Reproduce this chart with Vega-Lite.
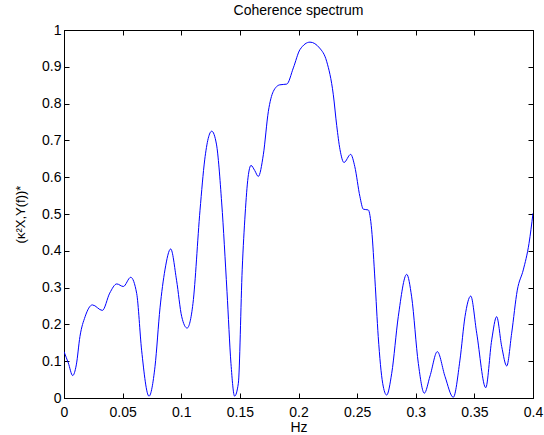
{
  "$schema": "https://vega.github.io/schema/vega-lite/v6.json",
  "width": 469,
  "height": 368,
  "autosize": {"type": "none"},
  "padding": {"left": 64, "top": 30, "right": 11, "bottom": 37},
  "background": "white",
  "title": {"text": "Coherence spectrum", "font": "Liberation Sans", "fontSize": 14, "fontWeight": "normal", "color": "black", "offset": 5},
  "config": {"view": {"stroke": "black", "strokeWidth": 1}},
  "data": {"values": [
    {"f": 0, "v": 0.126}, {"f": 0.0037, "v": 0.095}, {"f": 0.0074, "v": 0.061}, {"f": 0.0105, "v": 0.09},
    {"f": 0.0136, "v": 0.167}, {"f": 0.018, "v": 0.221}, {"f": 0.0242, "v": 0.253}, {"f": 0.0327, "v": 0.238},
    {"f": 0.039, "v": 0.285}, {"f": 0.045, "v": 0.31}, {"f": 0.0506, "v": 0.303}, {"f": 0.0569, "v": 0.328},
    {"f": 0.062, "v": 0.284}, {"f": 0.0662, "v": 0.13}, {"f": 0.0725, "v": 0.005}, {"f": 0.0776, "v": 0.085},
    {"f": 0.0819, "v": 0.245}, {"f": 0.0861, "v": 0.348}, {"f": 0.091, "v": 0.405}, {"f": 0.096, "v": 0.32},
    {"f": 0.1004, "v": 0.221}, {"f": 0.105, "v": 0.19}, {"f": 0.11, "v": 0.257}, {"f": 0.116, "v": 0.51},
    {"f": 0.12, "v": 0.647}, {"f": 0.126, "v": 0.725}, {"f": 0.13, "v": 0.69}, {"f": 0.1345, "v": 0.53},
    {"f": 0.139, "v": 0.29}, {"f": 0.1424, "v": 0.094}, {"f": 0.1455, "v": 0.005}, {"f": 0.1487, "v": 0.04},
    {"f": 0.152, "v": 0.35}, {"f": 0.1545, "v": 0.5}, {"f": 0.157, "v": 0.6}, {"f": 0.1595, "v": 0.632},
    {"f": 0.1627, "v": 0.618}, {"f": 0.1657, "v": 0.602}, {"f": 0.17, "v": 0.661}, {"f": 0.1743, "v": 0.779},
    {"f": 0.1785, "v": 0.833}, {"f": 0.184, "v": 0.851}, {"f": 0.19, "v": 0.853}, {"f": 0.1956, "v": 0.897},
    {"f": 0.2013, "v": 0.947}, {"f": 0.2098, "v": 0.967}, {"f": 0.218, "v": 0.951}, {"f": 0.224, "v": 0.915},
    {"f": 0.2297, "v": 0.824}, {"f": 0.2326, "v": 0.74}, {"f": 0.2354, "v": 0.675}, {"f": 0.2388, "v": 0.64},
    {"f": 0.2445, "v": 0.662}, {"f": 0.248, "v": 0.629}, {"f": 0.2524, "v": 0.547}, {"f": 0.2553, "v": 0.513},
    {"f": 0.2595, "v": 0.511}, {"f": 0.2624, "v": 0.457}, {"f": 0.2652, "v": 0.321}, {"f": 0.268, "v": 0.167},
    {"f": 0.2718, "v": 0.04}, {"f": 0.2752, "v": 0.008}, {"f": 0.2795, "v": 0.067}, {"f": 0.2851, "v": 0.221},
    {"f": 0.2923, "v": 0.336}, {"f": 0.2965, "v": 0.275}, {"f": 0.3022, "v": 0.094}, {"f": 0.3073, "v": 0.013},
    {"f": 0.3122, "v": 0.06}, {"f": 0.3184, "v": 0.126}, {"f": 0.325, "v": 0.058}, {"f": 0.332, "v": 0.002},
    {"f": 0.3377, "v": 0.103}, {"f": 0.342, "v": 0.221}, {"f": 0.3469, "v": 0.277}, {"f": 0.352, "v": 0.176},
    {"f": 0.3597, "v": 0.028}, {"f": 0.3648, "v": 0.158}, {"f": 0.369, "v": 0.221}, {"f": 0.3733, "v": 0.14},
    {"f": 0.3776, "v": 0.087}, {"f": 0.3818, "v": 0.176}, {"f": 0.3866, "v": 0.293}, {"f": 0.3917, "v": 0.348},
    {"f": 0.3966, "v": 0.42}, {"f": 0.4, "v": 0.502}
  ]},
  "layer": [
    {
      "mark": {"type": "line", "color": "#0000ff", "strokeWidth": 1, "interpolate": "monotone", "clip": true},
      "encoding": {
        "x": {"field": "f", "type": "quantitative", "scale": {"domain": [0, 0.4], "nice": false, "zero": false},
          "axis": {"orient": "bottom", "title": "Hz", "values": [0, 0.05, 0.1, 0.15, 0.2, 0.25, 0.3, 0.35, 0.4], "format": "~g",
            "grid": false, "domainColor": "black", "tickColor": "black", "tickSize": -5, "labelPadding": 12,
            "labelFont": "Liberation Sans", "labelFontSize": 14, "labelColor": "black", "labelFlush": false,
            "titleFont": "Liberation Sans", "titleFontSize": 14, "titleFontWeight": "normal", "titleColor": "black", "titlePadding": 1}},
        "y": {"field": "v", "type": "quantitative", "scale": {"domain": [0, 1], "nice": false},
          "axis": {"orient": "left", "title": "(κ²X,Y(f))*", "values": [0, 0.1, 0.2, 0.3, 0.4, 0.5, 0.6, 0.7, 0.8, 0.9, 1], "format": "~g",
            "grid": false, "domainColor": "black", "tickColor": "black", "tickSize": -5, "labelPadding": 8,
            "labelFont": "Liberation Sans", "labelFontSize": 14, "labelColor": "black", "labelFlush": false,
            "titleFont": "Liberation Sans", "titleFontSize": 13, "titleFontWeight": "normal", "titleColor": "black", "titlePadding": 14}}
      }
    },
    {
      "mark": {"type": "line", "opacity": 0},
      "encoding": {
        "x": {"field": "f", "type": "quantitative",
          "axis": {"orient": "top", "title": null, "labels": false, "values": [0, 0.05, 0.1, 0.15, 0.2, 0.25, 0.3, 0.35, 0.4],
            "grid": false, "domainColor": "black", "tickColor": "black", "tickSize": -5}},
        "y": {"field": "v", "type": "quantitative",
          "axis": {"orient": "right", "title": null, "labels": false, "values": [0, 0.1, 0.2, 0.3, 0.4, 0.5, 0.6, 0.7, 0.8, 0.9, 1],
            "grid": false, "domainColor": "black", "tickColor": "black", "tickSize": -5}}
      }
    }
  ],
  "resolve": {"axis": {"x": "independent", "y": "independent"}}
}
